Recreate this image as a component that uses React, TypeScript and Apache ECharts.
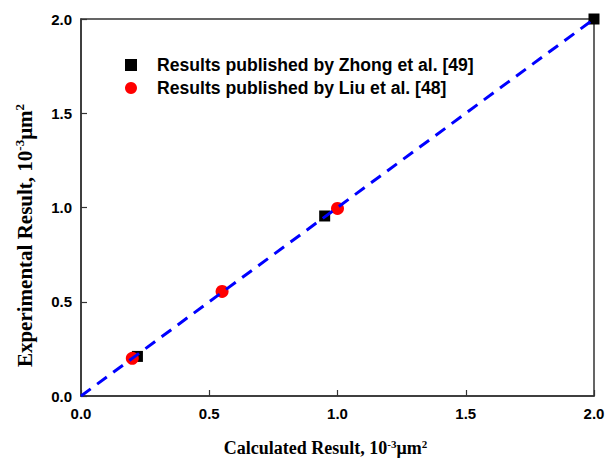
import React, { useEffect, useRef } from "react";
import * as echarts from "echarts";

const zhongLabel = "Results published by Zhong et al. [49]";
const liuLabel = "Results published by Liu et al. [48]";
const zhongData: [number, number][] = [
  [0.22, 0.21],
  [0.95, 0.955],
  [2.0, 2.0],
];
const liuData: [number, number][] = [
  [0.2, 0.2],
  [0.55, 0.555],
  [1.0, 0.995],
];
const refLine: [number, number][] = [
  [0, 0],
  [2, 2],
];

function makeRich(size: number) {
  return {
    a: { fontFamily: "Liberation Serif, Times New Roman", fontWeight: "bold", fontSize: size, color: "#000" },
    sup: {
      fontFamily: "Liberation Serif, Times New Roman",
      fontWeight: "bold",
      fontSize: Math.round(size * 0.6),
      color: "#000",
      verticalAlign: "top",
      padding: [0, 0, Math.round(size * 0.5), 0],
    },
  };
}

export default function App() {
  const ref = useRef<HTMLDivElement>(null);
  useEffect(() => {
    if (!ref.current) return;
    document.documentElement.style.overflow = "hidden";
    document.body.style.margin = "0";
    document.body.style.overflow = "hidden";
    const chart = echarts.init(ref.current, null, { renderer: "svg" });
    const axisCommon = {
      min: 0,
      max: 2,
      interval: 0.5,
      axisLine: { show: true, onZero: false, lineStyle: { color: "#333", width: 1.5 } },
      axisTick: { show: true, inside: true, length: 6, lineStyle: { color: "#333", width: 1.2 } },
      splitLine: { show: false },
    };
    const labelCommon = {
      color: "#000",
      fontFamily: "Liberation Sans, Arial",
      fontWeight: "bold" as const,
      fontSize: 15,
      formatter: (v: number) => v.toFixed(1),
    };
    chart.setOption({
      animation: false,
      backgroundColor: "#fff",
      grid: {
        left: 81,
        right: 12,
        top: 19,
        bottom: 63,
        containLabel: false,
        outerBoundsMode: "none",
        show: true,
        borderColor: "#333",
        borderWidth: 1.5,
      },
      legend: {
        data: [zhongLabel, liuLabel],
        orient: "vertical",
        left: 120,
        top: 51,
        itemWidth: 12,
        itemHeight: 12,
        itemGap: 5,
        textStyle: {
          fontFamily: "Liberation Sans, Arial",
          fontSize: 17.6,
          fontWeight: "bold",
          lineHeight: 17,
          color: "#000",
          padding: [0, 0, 0, 15],
        },
      },
      xAxis: {
        type: "value",
        ...axisCommon,
        axisLabel: { ...labelCommon, margin: 10 },
        name: "{a|Calculated Result, 10}{sup|-3}{a|μm}{sup|2}",
        nameLocation: "middle",
        nameGap: 42,
        nameTextStyle: { rich: makeRich(18), padding: [0, 24, 0, 0] },
      },
      yAxis: {
        type: "value",
        ...axisCommon,
        axisLabel: { ...labelCommon, margin: 9 },
        name: "{a|Experimental Result, 10}{sup|-3}{a|μm}{sup|2}",
        nameLocation: "middle",
        nameGap: 44,
        nameTextStyle: { rich: makeRich(21), padding: [0, 56, 0, 0] },
      },
      series: [
        {
          name: zhongLabel,
          type: "scatter",
          symbol: "rect",
          symbolSize: 11,
          itemStyle: { color: "#000", opacity: 1 },
          data: zhongData,
          clip: true,
          z: 2,
        },
        {
          name: liuLabel,
          type: "scatter",
          symbol: "circle",
          symbolSize: 13,
          itemStyle: { color: "#ff0000", opacity: 1 },
          data: liuData,
          clip: true,
          z: 3,
        },
        {
          name: "ref",
          type: "line",
          data: refLine,
          symbol: "none",
          lineStyle: { color: "#0000ff", width: 3, type: [12, 8] },
          z: 4,
          silent: true,
        },
      ],
    });
    return () => chart.dispose();
  }, []);
  return (
    <div
      ref={ref}
      style={{ position: "absolute", left: 0, top: 0, width: 606, height: 459, overflow: "hidden" }}
    />
  );
}
